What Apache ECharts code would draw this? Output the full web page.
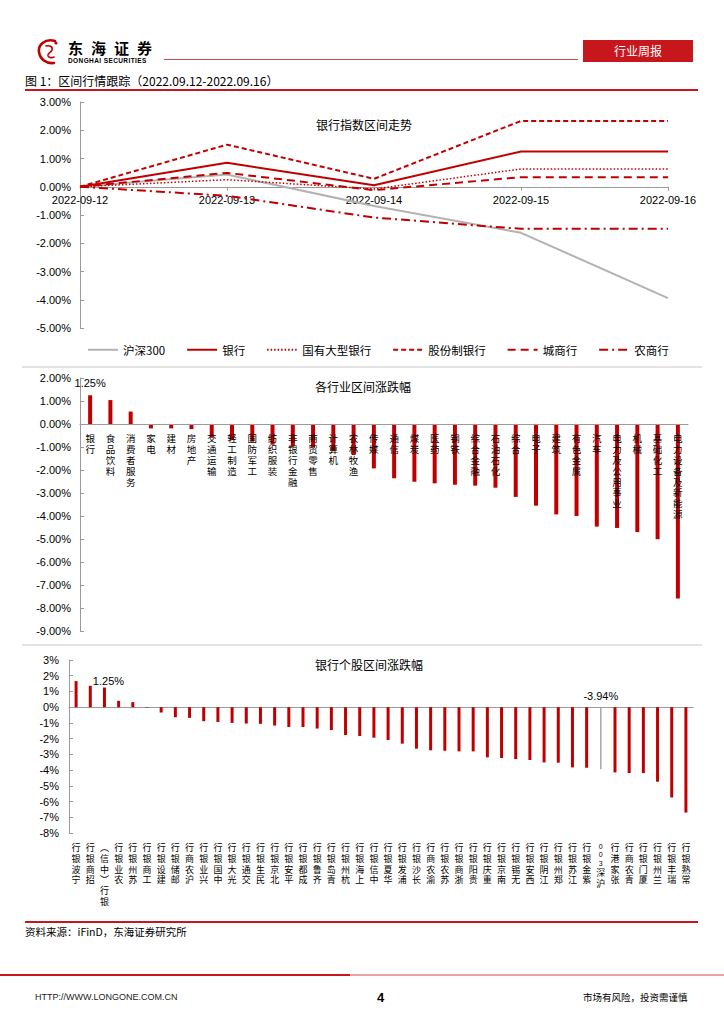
<!DOCTYPE html>
<html><head><meta charset="utf-8">
<script src="https://cdn.jsdelivr.net/npm/echarts@6/dist/echarts.min.js"></script>
<style>
html,body{margin:0;padding:0;background:#fff;}
body{width:724px;height:1024px;position:relative;overflow:hidden;font-family:'Liberation Sans','Noto Sans CJK SC',sans-serif;color:#000;}
#chart{position:absolute;left:0;top:0;width:724px;height:1024px;}
.abs{position:absolute;white-space:nowrap;z-index:5;line-height:1;}
.cjk{font-family:'Noto Sans CJK SC',sans-serif;}
</style></head><body>
<div id="chart"></div>

<svg class="abs" style="left:36px;top:38px" width="28" height="27" viewBox="0 0 28 27">
  <path d="M19 3 C9 0 2 7 3 14 C4 21 10 26 18 25" stroke="#C00000" stroke-width="2.6" fill="none" stroke-linecap="round"/>
  <path d="M10 8 C14 7 17 9 16 12 C15 15 11 15 12 18 C13 20 16 20 18 19" stroke="#C00000" stroke-width="1.6" fill="none" stroke-linecap="round"/>
  <circle cx="20" cy="5" r="1.6" fill="#C00000"/>
</svg>
<div class="abs cjk" style="left:68px;top:40px;font-size:15px;font-weight:bold;letter-spacing:8px;">东海证券</div>
<div class="abs" style="left:68px;top:58px;font-size:6.5px;font-weight:bold;letter-spacing:0.4px;">DONGHAI SECURITIES</div>
<div class="abs" style="left:164px;top:59px;width:414px;height:1px;background:#C0504D;"></div>
<div class="abs cjk" style="left:583px;top:40px;width:110px;height:22px;background:#C8161D;color:#fff;font-size:12px;text-align:center;line-height:22px;">行业周报</div>
<div class="abs cjk" style="left:25px;top:75px;font-size:12px;">图 1：区间行情跟踪（2022.09.12-2022.09.16）</div>
<div class="abs" style="left:25px;top:89px;width:673px;height:2px;background:#C8161D;"></div>

<div class="abs" style="left:25px;top:921px;width:673px;height:2px;background:#C8161D;"></div>
<div class="abs cjk" style="left:25px;top:927px;font-size:10.5px;">资料来源：iFinD，东海证券研究所</div>

<div class="abs" style="left:0px;top:974px;width:350px;height:1.5px;background:#C8161D;"></div>
<div class="abs" style="left:350px;top:974px;width:374px;height:1.5px;background:#E9A3A3;"></div>
<div class="abs" style="left:35px;top:993px;font-size:9px;color:#222;">HTTP://WWW.LONGONE.COM.CN</div>
<div class="abs" style="left:377px;top:991px;font-size:13px;font-weight:bold;">4</div>
<div class="abs cjk" style="left:583px;top:993px;font-size:9.5px;">市场有风险，投资需谨慎</div>

<script>
// ---------- data: top chart ----------
const dates = ['2022-09-12','2022-09-13','2022-09-14','2022-09-15','2022-09-16'];
const hs300 = [0, 0.43, -0.68, -1.63, -3.94];
const bankIdx = [0, 0.85, 0.05, 1.25, 1.25];
const bigBank = [0, 0.25, -0.08, 0.63, 0.63];
const jointBank = [0, 1.49, 0.28, 2.33, 2.33];
const cityBank = [0, 0.49, -0.12, 0.34, 0.34];
const ruralBank = [0, -0.32, -1.09, -1.49, -1.49];
const lineNames = ['沪深300','银行','国有大型银行','股份制银行','城商行','农商行'];

// ---------- data: industries ----------
const industries = ['银行','食品饮料','消费者服务','家电','建材','房地产','交通运输','轻工制造','国防军工','纺织服装','非银行金融','商贸零售','计算机','农林牧渔','传媒','通信','煤炭','医药','钢铁','综合金融','石油石化','综合','电子','建筑','有色金属','汽车','电力及公用事业','机械','基础化工','电力设备及新能源'];
const industryChg = [1.25, 1.04, 0.54, -0.19, -0.19, -0.22, -0.60, -0.70, -0.77, -0.90, -0.98, -1.02, -1.18, -1.35, -1.93, -2.36, -2.51, -2.58, -2.64, -2.68, -2.77, -3.17, -3.55, -3.93, -4.00, -4.46, -4.52, -4.70, -5.01, -7.59];

// ---------- data: bank stocks ----------
const banks = ['宁波银行','招商银行','银行（中信）','农业银行','苏州银行','工商银行','建设银行','邮储银行','沪农商行','兴业银行','中国银行','光大银行','交通银行','民生银行','北京银行','平安银行','成都银行','齐鲁银行','青岛银行','杭州银行','上海银行','中信银行','华夏银行','浦发银行','长沙银行','渝农商行','苏农银行','浙商银行','贵阳银行','重庆银行','南京银行','无锡银行','西安银行','江阴银行','郑州银行','江苏银行','紫金银行','沪深300','张家港行','青农商行','厦门银行','兰州银行','瑞丰银行','常熟银行'];
const bankChg = [1.66, 1.36, 1.25, 0.40, 0.32, -0.03, -0.34, -0.64, -0.68, -0.89, -0.94, -1.00, -1.04, -1.06, -1.17, -1.26, -1.26, -1.36, -1.45, -1.77, -1.83, -1.94, -2.09, -2.32, -2.64, -2.74, -2.77, -2.81, -2.81, -3.19, -3.23, -3.30, -3.36, -3.51, -3.53, -3.83, -3.85, -3.94, -4.15, -4.19, -4.19, -4.74, -5.74, -6.70];

const RED = '#C00000';
const GRAY_LINE = '#B2B2B2';
const AXIS = '#9A9A9A';
const NUMF = "'Liberation Sans', Arial, sans-serif";
const CJKF = "'Noto Sans CJK SC', sans-serif";

function stackDown(s){ return s.split('').join('\n'); }
function stackUp(s){
  const tokens = s.match(/[0-9A-Za-z]+|./g);
  const map = {'（':'︶','）':'︵','(':'︶',')':'︵'};
  const lines = [];
  tokens.reverse().forEach(t => {
    if (/^[0-9A-Za-z]+$/.test(t)) t.split('').reverse().forEach(c => lines.push('{d|' + c + '}'));
    else lines.push(map[t] || t);
  });
  return lines.join('\n');
}

const chart = echarts.init(document.getElementById('chart'), null, {renderer:'svg'});

const lineStyles = [
  {color: GRAY_LINE, width: 2, type: 'solid'},
  {color: RED, width: 2, type: 'solid'},
  {color: RED, width: 1.5, type: [1.5, 2]},
  {color: RED, width: 2, type: [5, 3]},
  {color: RED, width: 2, type: [8, 5]},
  {color: RED, width: 2, type: [9, 4, 2, 4]}
];
const lineData = [hs300, bankIdx, bigBank, jointBank, cityBank, ruralBank];

// grid geometry
const G0 = {left: 80, top: 102, width: 588, height: 226, min: -5, max: 3};
const G1 = {left: 80, top: 378, width: 608, height: 253, min: -9, max: 2};
const G2 = {left: 69, top: 660, width: 624, height: 173, min: -8, max: 3};
// distance from grid bottom to the zero line (used to lift category axes onto 0)
const zeroLift = g => -(g.height * (0 - g.min) / (g.max - g.min));

const valAxisBase = {
  type: 'value', splitLine: {show: false},
  axisLine: {show: true, lineStyle: {color: AXIS}},
  axisTick: {show: true, inside: true, length: 4, lineStyle: {color: AXIS}},
  axisLabel: {color: '#000', fontSize: 11, fontFamily: NUMF, margin: 9}
};

const option = {
  animation: false,
  textStyle: {fontFamily: NUMF},
  grid: [G0, G1, G2].map(g => ({left: g.left, top: g.top, width: g.width, height: g.height})),
  legend: {
    left: 82, top: 339, itemWidth: 30, itemHeight: 10, itemGap: 21,
    selectedMode: false,
    itemStyle: {opacity: 0},
    textStyle: {fontSize: 11.5, color: '#000', fontFamily: CJKF},
    data: lineNames
  },
  xAxis: [
    {gridIndex: 0, type: 'category', data: dates, boundaryGap: false,
     offset: zeroLift(G0),
     axisLine: {onZero: false, lineStyle: {color: AXIS}},
     axisTick: {length: 4, lineStyle: {color: AXIS}},
     axisLabel: {color: '#000', fontSize: 11, margin: 8, fontFamily: NUMF}},
    {gridIndex: 1, type: 'category', data: industries, z: 10,
     offset: zeroLift(G1),
     axisLine: {onZero: false, lineStyle: {color: AXIS}},
     axisTick: {length: 3, lineStyle: {color: AXIS}},
     axisLabel: {interval: 0, color: '#000', fontSize: 9.5, lineHeight: 10.8, margin: 9,
                 fontFamily: CJKF, verticalAlign: 'top', formatter: stackDown}},
    {gridIndex: 2, type: 'category', data: banks,
     offset: zeroLift(G2),
     axisLine: {onZero: false, lineStyle: {color: AXIS}},
     axisTick: {length: 3, lineStyle: {color: AXIS}},
     axisLabel: {show: false}},
    {gridIndex: 2, type: 'category', data: banks, position: 'bottom',
     axisLine: {show: false, onZero: false}, axisTick: {show: false},
     axisLabel: {interval: 0, color: '#000', fontSize: 9, lineHeight: 10.8, margin: 9,
                 fontFamily: CJKF, verticalAlign: 'top', formatter: stackUp,
                 rich: {d: {fontSize: 7, lineHeight: 8.4, fontFamily: NUMF, color: '#000'}}}}
  ],
  yAxis: [
    Object.assign({}, valAxisBase, {gridIndex: 0, min: G0.min, max: G0.max, interval: 1,
      axisLabel: Object.assign({}, valAxisBase.axisLabel, {formatter: v => v.toFixed(2) + '%'})}),
    Object.assign({}, valAxisBase, {gridIndex: 1, min: G1.min, max: G1.max, interval: 1,
      axisLabel: Object.assign({}, valAxisBase.axisLabel, {formatter: v => v.toFixed(2) + '%'})}),
    Object.assign({}, valAxisBase, {gridIndex: 2, min: G2.min, max: G2.max, interval: 1,
      axisLabel: Object.assign({}, valAxisBase.axisLabel, {formatter: v => v + '%', margin: 10})})
  ],
  graphic: [
    {type: 'text', x: 364, y: 124, style: {text: '银行指数区间走势', font: '12px ' + CJKF, fill: '#000', textAlign: 'center', textVerticalAlign: 'middle'}},
    {type: 'text', x: 363, y: 386, style: {text: '各行业区间涨跌幅', font: '12px ' + CJKF, fill: '#000', textAlign: 'center', textVerticalAlign: 'middle'}},
    {type: 'text', x: 369, y: 664, style: {text: '银行个股区间涨跌幅', font: '12px ' + CJKF, fill: '#000', textAlign: 'center', textVerticalAlign: 'middle'}},
    {type: 'line', shape: {x1: 22, y1: 367, x2: 702, y2: 367}, style: {stroke: '#C8C8C8', lineWidth: 1}},
    {type: 'line', shape: {x1: 22, y1: 645, x2: 702, y2: 645}, style: {stroke: '#C8C8C8', lineWidth: 1}}
  ],
  series: []
};

lineNames.forEach((n, i) => {
  option.series.push({
    name: n, type: 'line', xAxisIndex: 0, yAxisIndex: 0, data: lineData[i],
    symbol: 'none', lineStyle: lineStyles[i], itemStyle: {color: lineStyles[i].color},
    z: i === 0 ? 2 : 3
  });
});

option.series.push({
  type: 'bar', xAxisIndex: 1, yAxisIndex: 1, barWidth: 4,
  itemStyle: {color: RED},
  data: industryChg.map((v, i) => i === 0 ? {value: v, label: {show: true, position: 'top', distance: 7,
        formatter: v.toFixed(2) + '%', color: '#000', fontSize: 11, fontFamily: NUMF}} : v)
});

const hsIdx = banks.indexOf('沪深300');
const ziIdx = banks.indexOf('银行（中信）');
option.series.push({
  type: 'bar', xAxisIndex: 2, yAxisIndex: 2, barWidth: 3,
  itemStyle: {color: RED},
  data: bankChg.map((v, i) => i === hsIdx ? '-' : (i === ziIdx ? {value: v, label: {show: true, position: 'top',
        distance: 1, offset: [4, 0], formatter: v.toFixed(2) + '%', color: '#000', fontSize: 11, fontFamily: NUMF}} : v))
});
option.series.push({
  type: 'bar', xAxisIndex: 3, yAxisIndex: 2, barWidth: 1.5,
  itemStyle: {color: '#A6A6A6'},
  data: bankChg.map((v, i) => i === hsIdx ? {value: v, label: {show: true, position: 'top', distance: 6,
        formatter: v.toFixed(2) + '%', color: '#000', fontSize: 11, fontFamily: NUMF}} : '-')
});

chart.setOption(option);
</script>
</body></html>
